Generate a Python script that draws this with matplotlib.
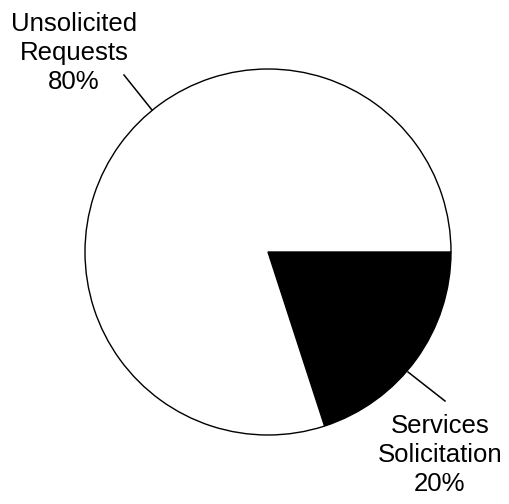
import matplotlib.pyplot as plt

# --- Data ---
categories = ['Services\nSolicitation', 'Unsolicited\nRequests']
shares = [20, 80]
colors = ['black', 'white']

plt.rcParams['font.family'] = ['Liberation Sans', 'DejaVu Sans']

W, H = 509, 504
fig = plt.figure(figsize=(W / 100, H / 100), dpi=100)
ax = fig.add_axes([0, 0, 1, 1])

# pixel-like coordinates (y up)
cx, cy, r = 268, H - 252, 183
wedges, _ = ax.pie(shares, colors=colors, startangle=0, counterclock=False,
                   center=(cx, cy), radius=r,
                   wedgeprops=dict(edgecolor='black', linewidth=1.0))

ax.set_xlim(0, W)
ax.set_ylim(0, H)
ax.set_aspect('auto')
ax.axis('off')

# --- Labels with leader lines ---
ax.text(74, H - 53, f'{categories[1]}\n{shares[1]}%',
        ha='center', va='center', fontsize=18.5, linespacing=1.27)
ax.plot([124, 152], [H - 75, H - 110], color='black', lw=1.1)

ax.text(440, H - 455, f'{categories[0]}\n{shares[0]}%',
        ha='center', va='center', fontsize=18.5, linespacing=1.27)
ax.plot([408, 445], [H - 372, H - 401], color='black', lw=1.1)

fig.savefig('out.png', dpi=100, facecolor='white')
